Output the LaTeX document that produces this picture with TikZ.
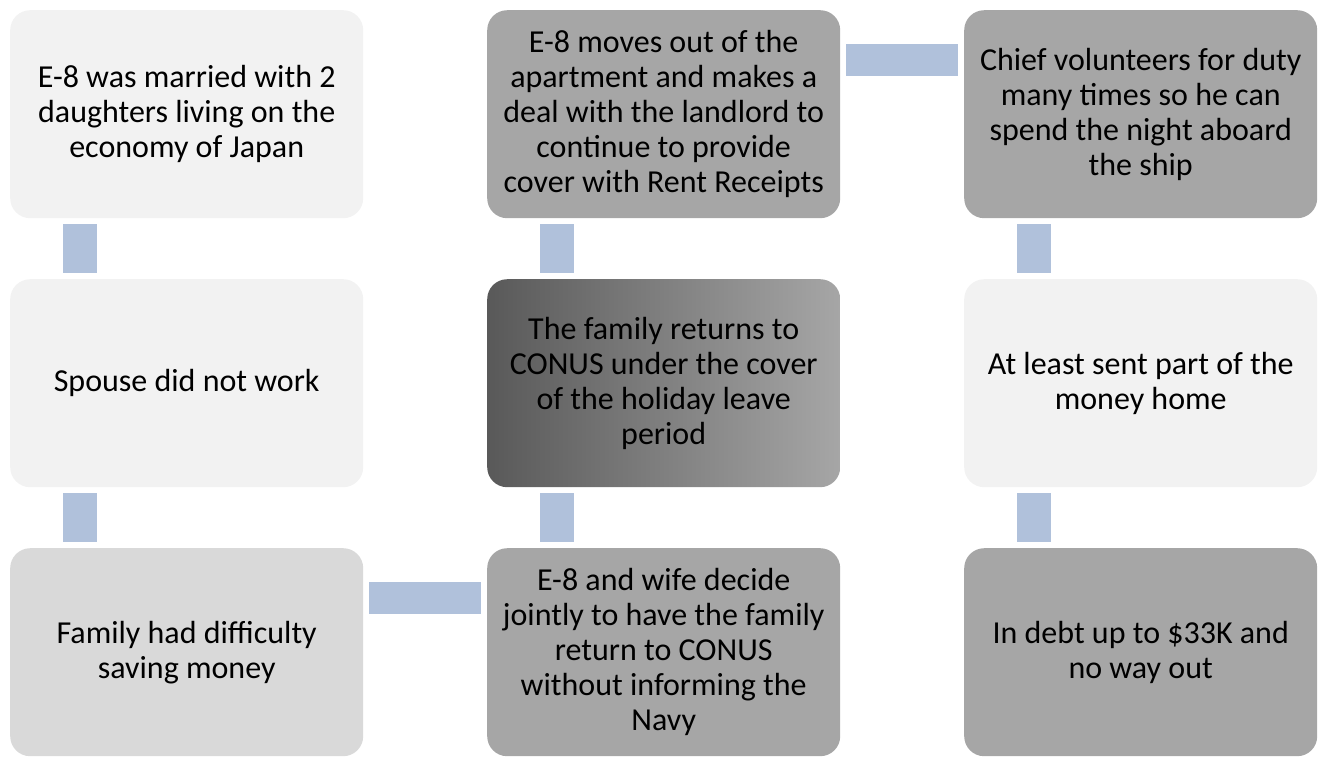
\documentclass[tikz,border=0pt]{standalone}
\usepackage{fontspec}
\setmainfont{Carlito}
\usetikzlibrary{calc,shadings}
\definecolor{lightbox}{RGB}{242,242,242}
\definecolor{midbox}{RGB}{217,217,217}
\definecolor{darkbox}{RGB}{166,166,166}
\definecolor{gradl}{RGB}{89,89,89}
\definecolor{conn}{RGB}{176,193,219}
\tikzset{
  stepbox/.style={rounded corners=20pt, minimum width=353pt, minimum height=208pt,
    inner sep=0pt, align=center, font=\fontsize{32}{35}\selectfont, anchor=north west},
  connbar/.style={fill=conn, draw=none}
}
\begin{document}
\begin{tikzpicture}[x=1pt,y=-1pt]
\useasboundingbox (0,0) rectangle (1320,756);
\node[stepbox, fill=lightbox] (a1) at (10,10) {E-8 was married with 2\\daughters living on the\\economy of Japan};
\node[stepbox, fill=lightbox] (a2) at (10,279) {Spouse did not work};
\node[stepbox, fill=midbox] (a3) at (10,548) {Family had difficulty\\saving money};
\node[stepbox, fill=darkbox] (b3) at (487,548) {E-8 and wife decide\\jointly to have the family\\return to CONUS\\without informing the\\Navy};
\node[stepbox, left color=gradl, right color=darkbox] (b2) at (487,279) {The family returns to\\CONUS under the cover\\of the holiday leave\\period};
\node[stepbox, fill=darkbox] (b1) at (487,10) {E-8 moves out of the\\apartment and makes a\\deal with the landlord to\\continue to provide\\cover with Rent Receipts};
\node[stepbox, fill=darkbox] (c1) at (964,10) {Chief volunteers for duty\\many times so he can\\spend the night aboard\\the ship};
\node[stepbox, fill=lightbox] (c2) at (964,279) {At least sent part of the\\money home};
\node[stepbox, fill=darkbox] (c3) at (964,548) {In debt up to \$33K and\\no way out};
% vertical connectors (upper box / lower box)
\foreach \u/\l in {a1/a2,a2/a3,b1/b2,b2/b3,c1/c2,c2/c3}{
  \fill[connbar] ($(\u.south west)+(53,6)$) rectangle ($(\l.north west)+(87,-6)$);
}
% horizontal connectors
\fill[connbar] ($(a3.north east)+(6,34)$) rectangle ($(b3.north west)+(-6,66)$);
\fill[connbar] ($(b1.north east)+(6,34)$) rectangle ($(c1.north west)+(-6,66)$);
\end{tikzpicture}
\end{document}
